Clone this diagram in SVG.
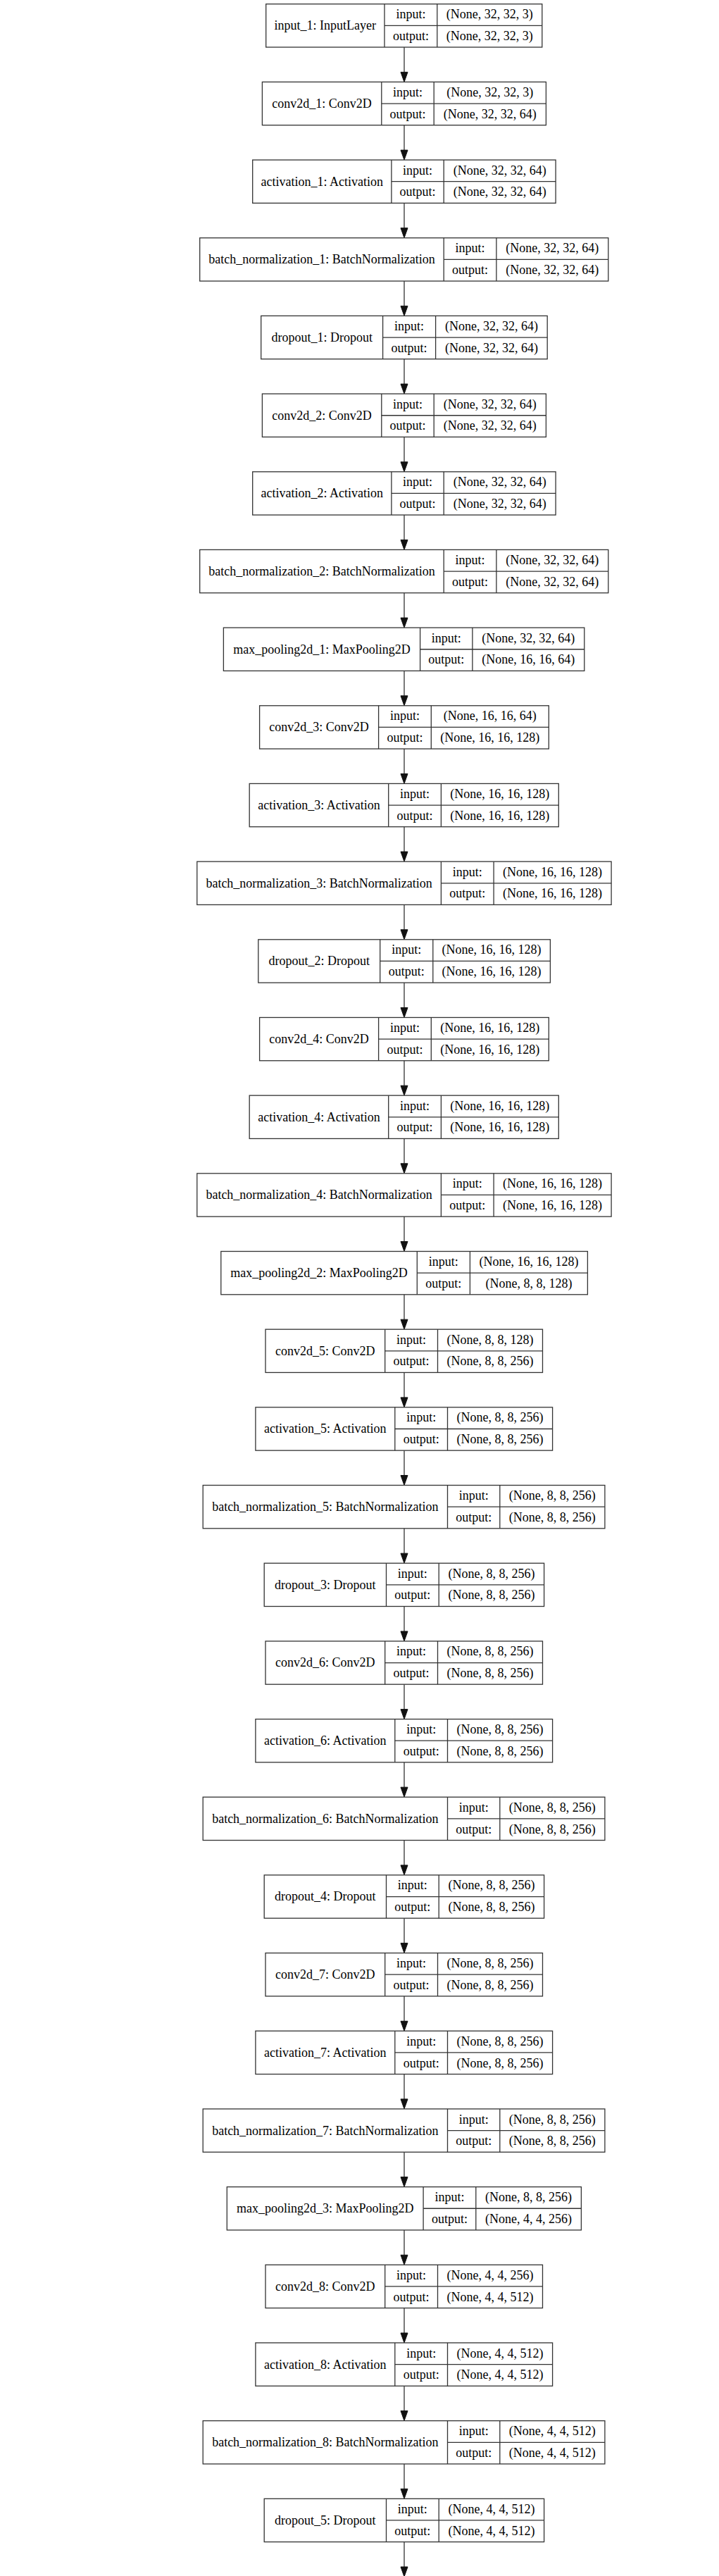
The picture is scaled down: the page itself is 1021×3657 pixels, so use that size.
<svg xmlns="http://www.w3.org/2000/svg" width="1021" height="3657" viewBox="0 0 1021 3657">
<style>
.b{fill:#fff;stroke:#333;stroke-width:1.3}
.d{stroke:#333;stroke-width:1.3}
.t{font-family:"Liberation Serif","Times New Roman",serif;font-size:18px;fill:#000;text-anchor:middle}
.c{stroke:#333;stroke-width:1.3;fill:none}
</style>
<defs>
<marker id="ah" markerUnits="userSpaceOnUse" markerWidth="14" markerHeight="10" refX="0" refY="5" orient="auto" overflow="visible">
<path d="M0,0 L14,5 L0,10 Z" fill="#111" stroke="#111" stroke-width="1"/>
</marker>
</defs>
<rect width="1021" height="3657" fill="#fff"/>
<g id="connectors">
<line class="c" x1="574" y1="67.0" x2="574" y2="102.4" marker-end="url(#ah)"/>
<line class="c" x1="574" y1="177.7" x2="574" y2="213.1" marker-end="url(#ah)"/>
<line class="c" x1="574" y1="288.4" x2="574" y2="323.7" marker-end="url(#ah)"/>
<line class="c" x1="574" y1="399.0" x2="574" y2="434.4" marker-end="url(#ah)"/>
<line class="c" x1="574" y1="509.7" x2="574" y2="545.1" marker-end="url(#ah)"/>
<line class="c" x1="574" y1="620.4" x2="574" y2="655.8" marker-end="url(#ah)"/>
<line class="c" x1="574" y1="731.1" x2="574" y2="766.4" marker-end="url(#ah)"/>
<line class="c" x1="574" y1="841.7" x2="574" y2="877.1" marker-end="url(#ah)"/>
<line class="c" x1="574" y1="952.4" x2="574" y2="987.8" marker-end="url(#ah)"/>
<line class="c" x1="574" y1="1063.1" x2="574" y2="1098.5" marker-end="url(#ah)"/>
<line class="c" x1="574" y1="1173.8" x2="574" y2="1209.1" marker-end="url(#ah)"/>
<line class="c" x1="574" y1="1284.4" x2="574" y2="1319.8" marker-end="url(#ah)"/>
<line class="c" x1="574" y1="1395.1" x2="574" y2="1430.5" marker-end="url(#ah)"/>
<line class="c" x1="574" y1="1505.8" x2="574" y2="1541.2" marker-end="url(#ah)"/>
<line class="c" x1="574" y1="1616.5" x2="574" y2="1651.8" marker-end="url(#ah)"/>
<line class="c" x1="574" y1="1727.1" x2="574" y2="1762.5" marker-end="url(#ah)"/>
<line class="c" x1="574" y1="1837.8" x2="574" y2="1873.2" marker-end="url(#ah)"/>
<line class="c" x1="574" y1="1948.5" x2="574" y2="1983.9" marker-end="url(#ah)"/>
<line class="c" x1="574" y1="2059.2" x2="574" y2="2094.5" marker-end="url(#ah)"/>
<line class="c" x1="574" y1="2169.8" x2="574" y2="2205.2" marker-end="url(#ah)"/>
<line class="c" x1="574" y1="2280.5" x2="574" y2="2315.9" marker-end="url(#ah)"/>
<line class="c" x1="574" y1="2391.2" x2="574" y2="2426.6" marker-end="url(#ah)"/>
<line class="c" x1="574" y1="2501.9" x2="574" y2="2537.2" marker-end="url(#ah)"/>
<line class="c" x1="574" y1="2612.5" x2="574" y2="2647.9" marker-end="url(#ah)"/>
<line class="c" x1="574" y1="2723.2" x2="574" y2="2758.6" marker-end="url(#ah)"/>
<line class="c" x1="574" y1="2833.9" x2="574" y2="2869.3" marker-end="url(#ah)"/>
<line class="c" x1="574" y1="2944.6" x2="574" y2="2979.9" marker-end="url(#ah)"/>
<line class="c" x1="574" y1="3055.2" x2="574" y2="3090.6" marker-end="url(#ah)"/>
<line class="c" x1="574" y1="3165.9" x2="574" y2="3201.3" marker-end="url(#ah)"/>
<line class="c" x1="574" y1="3276.6" x2="574" y2="3312.0" marker-end="url(#ah)"/>
<line class="c" x1="574" y1="3387.3" x2="574" y2="3422.6" marker-end="url(#ah)"/>
<line class="c" x1="574" y1="3497.9" x2="574" y2="3533.3" marker-end="url(#ah)"/>
<line class="c" x1="574" y1="3608.6" x2="574" y2="3644.0" marker-end="url(#ah)"/>
</g>

<g id="input_1" transform="translate(0,5.7)">
<rect class="b" x="377.7" y="0" width="392.1" height="61.3"/>
<line class="d" x1="546.0" y1="0" x2="546.0" y2="61.3"/><line class="d" x1="620.8" y1="0" x2="620.8" y2="61.3"/><line class="d" x1="546.0" y1="30.65" x2="769.8" y2="30.65"/>
<text class="t" x="461.85" y="36.6">input_1: InputLayer</text>
<text class="t" x="583.4" y="20.6">input:</text><text class="t" x="583.4" y="51.3">output:</text>
<text class="t" x="695.3" y="20.6">(None, 32, 32, 3)</text><text class="t" x="695.3" y="51.3">(None, 32, 32, 3)</text>
</g>

<g id="conv2d_1" transform="translate(0,116.375)">
<rect class="b" x="372.4" y="0" width="403" height="61.3"/>
<line class="d" x1="541.8" y1="0" x2="541.8" y2="61.3"/><line class="d" x1="616.2" y1="0" x2="616.2" y2="61.3"/><line class="d" x1="541.8" y1="30.65" x2="775.4" y2="30.65"/>
<text class="t" x="457.1" y="36.6">conv2d_1: Conv2D</text>
<text class="t" x="579.0" y="20.6">input:</text><text class="t" x="579.0" y="51.3">output:</text>
<text class="t" x="695.8" y="20.6">(None, 32, 32, 3)</text><text class="t" x="695.8" y="51.3">(None, 32, 32, 64)</text>
</g>

<g id="activation_1" transform="translate(0,227.05)">
<rect class="b" x="358.7" y="0" width="430.4" height="61.3"/>
<line class="d" x1="555.9" y1="0" x2="555.9" y2="61.3"/><line class="d" x1="630.2" y1="0" x2="630.2" y2="61.3"/><line class="d" x1="555.9" y1="30.65" x2="789.1" y2="30.65"/>
<text class="t" x="457.3" y="36.6">activation_1: Activation</text>
<text class="t" x="593.05" y="20.6">input:</text><text class="t" x="593.05" y="51.3">output:</text>
<text class="t" x="709.65" y="20.6">(None, 32, 32, 64)</text><text class="t" x="709.65" y="51.3">(None, 32, 32, 64)</text>
</g>

<g id="batch_normalization_1" transform="translate(0,337.725)">
<rect class="b" x="283.7" y="0" width="580.1" height="61.3"/>
<line class="d" x1="630.2" y1="0" x2="630.2" y2="61.3"/><line class="d" x1="704.9" y1="0" x2="704.9" y2="61.3"/><line class="d" x1="630.2" y1="30.65" x2="863.8" y2="30.65"/>
<text class="t" x="456.95" y="36.6">batch_normalization_1: BatchNormalization</text>
<text class="t" x="667.55" y="20.6">input:</text><text class="t" x="667.55" y="51.3">output:</text>
<text class="t" x="784.35" y="20.6">(None, 32, 32, 64)</text><text class="t" x="784.35" y="51.3">(None, 32, 32, 64)</text>
</g>

<g id="dropout_1" transform="translate(0,448.4)">
<rect class="b" x="370.7" y="0" width="406.5" height="61.3"/>
<line class="d" x1="543.6" y1="0" x2="543.6" y2="61.3"/><line class="d" x1="618.6" y1="0" x2="618.6" y2="61.3"/><line class="d" x1="543.6" y1="30.65" x2="777.2" y2="30.65"/>
<text class="t" x="457.15" y="36.6">dropout_1: Dropout</text>
<text class="t" x="581.1" y="20.6">input:</text><text class="t" x="581.1" y="51.3">output:</text>
<text class="t" x="697.9" y="20.6">(None, 32, 32, 64)</text><text class="t" x="697.9" y="51.3">(None, 32, 32, 64)</text>
</g>

<g id="conv2d_2" transform="translate(0,559.075)">
<rect class="b" x="372.4" y="0" width="403" height="61.3"/>
<line class="d" x1="541.8" y1="0" x2="541.8" y2="61.3"/><line class="d" x1="616.2" y1="0" x2="616.2" y2="61.3"/><line class="d" x1="541.8" y1="30.65" x2="775.4" y2="30.65"/>
<text class="t" x="457.1" y="36.6">conv2d_2: Conv2D</text>
<text class="t" x="579.0" y="20.6">input:</text><text class="t" x="579.0" y="51.3">output:</text>
<text class="t" x="695.8" y="20.6">(None, 32, 32, 64)</text><text class="t" x="695.8" y="51.3">(None, 32, 32, 64)</text>
</g>

<g id="activation_2" transform="translate(0,669.75)">
<rect class="b" x="358.7" y="0" width="430.4" height="61.3"/>
<line class="d" x1="555.9" y1="0" x2="555.9" y2="61.3"/><line class="d" x1="630.2" y1="0" x2="630.2" y2="61.3"/><line class="d" x1="555.9" y1="30.65" x2="789.1" y2="30.65"/>
<text class="t" x="457.3" y="36.6">activation_2: Activation</text>
<text class="t" x="593.05" y="20.6">input:</text><text class="t" x="593.05" y="51.3">output:</text>
<text class="t" x="709.65" y="20.6">(None, 32, 32, 64)</text><text class="t" x="709.65" y="51.3">(None, 32, 32, 64)</text>
</g>

<g id="batch_normalization_2" transform="translate(0,780.425)">
<rect class="b" x="283.7" y="0" width="580.1" height="61.3"/>
<line class="d" x1="630.2" y1="0" x2="630.2" y2="61.3"/><line class="d" x1="704.9" y1="0" x2="704.9" y2="61.3"/><line class="d" x1="630.2" y1="30.65" x2="863.8" y2="30.65"/>
<text class="t" x="456.95" y="36.6">batch_normalization_2: BatchNormalization</text>
<text class="t" x="667.55" y="20.6">input:</text><text class="t" x="667.55" y="51.3">output:</text>
<text class="t" x="784.35" y="20.6">(None, 32, 32, 64)</text><text class="t" x="784.35" y="51.3">(None, 32, 32, 64)</text>
</g>

<g id="max_pooling2d_1" transform="translate(0,891.1)">
<rect class="b" x="317.4" y="0" width="512.4" height="61.3"/>
<line class="d" x1="596.6" y1="0" x2="596.6" y2="61.3"/><line class="d" x1="670.9" y1="0" x2="670.9" y2="61.3"/><line class="d" x1="596.6" y1="30.65" x2="829.8" y2="30.65"/>
<text class="t" x="457.0" y="36.6">max_pooling2d_1: MaxPooling2D</text>
<text class="t" x="633.75" y="20.6">input:</text><text class="t" x="633.75" y="51.3">output:</text>
<text class="t" x="750.35" y="20.6">(None, 32, 32, 64)</text><text class="t" x="750.35" y="51.3">(None, 16, 16, 64)</text>
</g>

<g id="conv2d_3" transform="translate(0,1001.775)">
<rect class="b" x="368.6" y="0" width="410.7" height="61.3"/>
<line class="d" x1="537.6" y1="0" x2="537.6" y2="61.3"/><line class="d" x1="612.3" y1="0" x2="612.3" y2="61.3"/><line class="d" x1="537.6" y1="30.65" x2="779.3" y2="30.65"/>
<text class="t" x="453.1" y="36.6">conv2d_3: Conv2D</text>
<text class="t" x="574.95" y="20.6">input:</text><text class="t" x="574.95" y="51.3">output:</text>
<text class="t" x="695.8" y="20.6">(None, 16, 16, 64)</text><text class="t" x="695.8" y="51.3">(None, 16, 16, 128)</text>
</g>

<g id="activation_3" transform="translate(0,1112.45)">
<rect class="b" x="354.2" y="0" width="439.1" height="61.3"/>
<line class="d" x1="551.7" y1="0" x2="551.7" y2="61.3"/><line class="d" x1="626.4" y1="0" x2="626.4" y2="61.3"/><line class="d" x1="551.7" y1="30.65" x2="793.3" y2="30.65"/>
<text class="t" x="452.95" y="36.6">activation_3: Activation</text>
<text class="t" x="589.05" y="20.6">input:</text><text class="t" x="589.05" y="51.3">output:</text>
<text class="t" x="709.85" y="20.6">(None, 16, 16, 128)</text><text class="t" x="709.85" y="51.3">(None, 16, 16, 128)</text>
</g>

<g id="batch_normalization_3" transform="translate(0,1223.125)">
<rect class="b" x="279.8" y="0" width="588.3" height="61.3"/>
<line class="d" x1="626.4" y1="0" x2="626.4" y2="61.3"/><line class="d" x1="701.1" y1="0" x2="701.1" y2="61.3"/><line class="d" x1="626.4" y1="30.65" x2="868.1" y2="30.65"/>
<text class="t" x="453.1" y="36.6">batch_normalization_3: BatchNormalization</text>
<text class="t" x="663.75" y="20.6">input:</text><text class="t" x="663.75" y="51.3">output:</text>
<text class="t" x="784.6" y="20.6">(None, 16, 16, 128)</text><text class="t" x="784.6" y="51.3">(None, 16, 16, 128)</text>
</g>

<g id="dropout_2" transform="translate(0,1333.8)">
<rect class="b" x="366.8" y="0" width="414.6" height="61.3"/>
<line class="d" x1="539.7" y1="0" x2="539.7" y2="61.3"/><line class="d" x1="614.8" y1="0" x2="614.8" y2="61.3"/><line class="d" x1="539.7" y1="30.65" x2="781.4" y2="30.65"/>
<text class="t" x="453.25" y="36.6">dropout_2: Dropout</text>
<text class="t" x="577.25" y="20.6">input:</text><text class="t" x="577.25" y="51.3">output:</text>
<text class="t" x="698.1" y="20.6">(None, 16, 16, 128)</text><text class="t" x="698.1" y="51.3">(None, 16, 16, 128)</text>
</g>

<g id="conv2d_4" transform="translate(0,1444.475)">
<rect class="b" x="368.6" y="0" width="410.7" height="61.3"/>
<line class="d" x1="537.6" y1="0" x2="537.6" y2="61.3"/><line class="d" x1="612.3" y1="0" x2="612.3" y2="61.3"/><line class="d" x1="537.6" y1="30.65" x2="779.3" y2="30.65"/>
<text class="t" x="453.1" y="36.6">conv2d_4: Conv2D</text>
<text class="t" x="574.95" y="20.6">input:</text><text class="t" x="574.95" y="51.3">output:</text>
<text class="t" x="695.8" y="20.6">(None, 16, 16, 128)</text><text class="t" x="695.8" y="51.3">(None, 16, 16, 128)</text>
</g>

<g id="activation_4" transform="translate(0,1555.15)">
<rect class="b" x="354.2" y="0" width="439.1" height="61.3"/>
<line class="d" x1="551.7" y1="0" x2="551.7" y2="61.3"/><line class="d" x1="626.4" y1="0" x2="626.4" y2="61.3"/><line class="d" x1="551.7" y1="30.65" x2="793.3" y2="30.65"/>
<text class="t" x="452.95" y="36.6">activation_4: Activation</text>
<text class="t" x="589.05" y="20.6">input:</text><text class="t" x="589.05" y="51.3">output:</text>
<text class="t" x="709.85" y="20.6">(None, 16, 16, 128)</text><text class="t" x="709.85" y="51.3">(None, 16, 16, 128)</text>
</g>

<g id="batch_normalization_4" transform="translate(0,1665.825)">
<rect class="b" x="279.8" y="0" width="588.3" height="61.3"/>
<line class="d" x1="626.4" y1="0" x2="626.4" y2="61.3"/><line class="d" x1="701.1" y1="0" x2="701.1" y2="61.3"/><line class="d" x1="626.4" y1="30.65" x2="868.1" y2="30.65"/>
<text class="t" x="453.1" y="36.6">batch_normalization_4: BatchNormalization</text>
<text class="t" x="663.75" y="20.6">input:</text><text class="t" x="663.75" y="51.3">output:</text>
<text class="t" x="784.6" y="20.6">(None, 16, 16, 128)</text><text class="t" x="784.6" y="51.3">(None, 16, 16, 128)</text>
</g>

<g id="max_pooling2d_2" transform="translate(0,1776.5)">
<rect class="b" x="313.8" y="0" width="520.6" height="61.3"/>
<line class="d" x1="592.3" y1="0" x2="592.3" y2="61.3"/><line class="d" x1="667.4" y1="0" x2="667.4" y2="61.3"/><line class="d" x1="592.3" y1="30.65" x2="834.4" y2="30.65"/>
<text class="t" x="453.05" y="36.6">max_pooling2d_2: MaxPooling2D</text>
<text class="t" x="629.85" y="20.6">input:</text><text class="t" x="629.85" y="51.3">output:</text>
<text class="t" x="750.9" y="20.6">(None, 16, 16, 128)</text><text class="t" x="750.9" y="51.3">(None, 8, 8, 128)</text>
</g>

<g id="conv2d_5" transform="translate(0,1887.175)">
<rect class="b" x="377.0" y="0" width="393.5" height="61.3"/>
<line class="d" x1="546.7" y1="0" x2="546.7" y2="61.3"/><line class="d" x1="621.5" y1="0" x2="621.5" y2="61.3"/><line class="d" x1="546.7" y1="30.65" x2="770.5" y2="30.65"/>
<text class="t" x="461.85" y="36.6">conv2d_5: Conv2D</text>
<text class="t" x="584.1" y="20.6">input:</text><text class="t" x="584.1" y="51.3">output:</text>
<text class="t" x="696.0" y="20.6">(None, 8, 8, 128)</text><text class="t" x="696.0" y="51.3">(None, 8, 8, 256)</text>
</g>

<g id="activation_5" transform="translate(0,1997.85)">
<rect class="b" x="362.9" y="0" width="421.7" height="61.3"/>
<line class="d" x1="560.8" y1="0" x2="560.8" y2="61.3"/><line class="d" x1="635.5" y1="0" x2="635.5" y2="61.3"/><line class="d" x1="560.8" y1="30.65" x2="784.6" y2="30.65"/>
<text class="t" x="461.85" y="36.6">activation_5: Activation</text>
<text class="t" x="598.15" y="20.6">input:</text><text class="t" x="598.15" y="51.3">output:</text>
<text class="t" x="710.05" y="20.6">(None, 8, 8, 256)</text><text class="t" x="710.05" y="51.3">(None, 8, 8, 256)</text>
</g>

<g id="batch_normalization_5" transform="translate(0,2108.525)">
<rect class="b" x="288.2" y="0" width="570.7" height="61.3"/>
<line class="d" x1="635.5" y1="0" x2="635.5" y2="61.3"/><line class="d" x1="709.8" y1="0" x2="709.8" y2="61.3"/><line class="d" x1="635.5" y1="30.65" x2="858.9" y2="30.65"/>
<text class="t" x="461.85" y="36.6">batch_normalization_5: BatchNormalization</text>
<text class="t" x="672.65" y="20.6">input:</text><text class="t" x="672.65" y="51.3">output:</text>
<text class="t" x="784.35" y="20.6">(None, 8, 8, 256)</text><text class="t" x="784.35" y="51.3">(None, 8, 8, 256)</text>
</g>

<g id="dropout_3" transform="translate(0,2219.2)">
<rect class="b" x="375.2" y="0" width="397.4" height="61.3"/>
<line class="d" x1="548.5" y1="0" x2="548.5" y2="61.3"/><line class="d" x1="623.2" y1="0" x2="623.2" y2="61.3"/><line class="d" x1="548.5" y1="30.65" x2="772.6" y2="30.65"/>
<text class="t" x="461.85" y="36.6">dropout_3: Dropout</text>
<text class="t" x="585.85" y="20.6">input:</text><text class="t" x="585.85" y="51.3">output:</text>
<text class="t" x="697.9" y="20.6">(None, 8, 8, 256)</text><text class="t" x="697.9" y="51.3">(None, 8, 8, 256)</text>
</g>

<g id="conv2d_6" transform="translate(0,2329.875)">
<rect class="b" x="377.0" y="0" width="393.5" height="61.3"/>
<line class="d" x1="546.7" y1="0" x2="546.7" y2="61.3"/><line class="d" x1="621.5" y1="0" x2="621.5" y2="61.3"/><line class="d" x1="546.7" y1="30.65" x2="770.5" y2="30.65"/>
<text class="t" x="461.85" y="36.6">conv2d_6: Conv2D</text>
<text class="t" x="584.1" y="20.6">input:</text><text class="t" x="584.1" y="51.3">output:</text>
<text class="t" x="696.0" y="20.6">(None, 8, 8, 256)</text><text class="t" x="696.0" y="51.3">(None, 8, 8, 256)</text>
</g>

<g id="activation_6" transform="translate(0,2440.55)">
<rect class="b" x="362.9" y="0" width="421.7" height="61.3"/>
<line class="d" x1="560.8" y1="0" x2="560.8" y2="61.3"/><line class="d" x1="635.5" y1="0" x2="635.5" y2="61.3"/><line class="d" x1="560.8" y1="30.65" x2="784.6" y2="30.65"/>
<text class="t" x="461.85" y="36.6">activation_6: Activation</text>
<text class="t" x="598.15" y="20.6">input:</text><text class="t" x="598.15" y="51.3">output:</text>
<text class="t" x="710.05" y="20.6">(None, 8, 8, 256)</text><text class="t" x="710.05" y="51.3">(None, 8, 8, 256)</text>
</g>

<g id="batch_normalization_6" transform="translate(0,2551.225)">
<rect class="b" x="288.2" y="0" width="570.7" height="61.3"/>
<line class="d" x1="635.5" y1="0" x2="635.5" y2="61.3"/><line class="d" x1="709.8" y1="0" x2="709.8" y2="61.3"/><line class="d" x1="635.5" y1="30.65" x2="858.9" y2="30.65"/>
<text class="t" x="461.85" y="36.6">batch_normalization_6: BatchNormalization</text>
<text class="t" x="672.65" y="20.6">input:</text><text class="t" x="672.65" y="51.3">output:</text>
<text class="t" x="784.35" y="20.6">(None, 8, 8, 256)</text><text class="t" x="784.35" y="51.3">(None, 8, 8, 256)</text>
</g>

<g id="dropout_4" transform="translate(0,2661.9)">
<rect class="b" x="375.2" y="0" width="397.4" height="61.3"/>
<line class="d" x1="548.5" y1="0" x2="548.5" y2="61.3"/><line class="d" x1="623.2" y1="0" x2="623.2" y2="61.3"/><line class="d" x1="548.5" y1="30.65" x2="772.6" y2="30.65"/>
<text class="t" x="461.85" y="36.6">dropout_4: Dropout</text>
<text class="t" x="585.85" y="20.6">input:</text><text class="t" x="585.85" y="51.3">output:</text>
<text class="t" x="697.9" y="20.6">(None, 8, 8, 256)</text><text class="t" x="697.9" y="51.3">(None, 8, 8, 256)</text>
</g>

<g id="conv2d_7" transform="translate(0,2772.575)">
<rect class="b" x="377.0" y="0" width="393.5" height="61.3"/>
<line class="d" x1="546.7" y1="0" x2="546.7" y2="61.3"/><line class="d" x1="621.5" y1="0" x2="621.5" y2="61.3"/><line class="d" x1="546.7" y1="30.65" x2="770.5" y2="30.65"/>
<text class="t" x="461.85" y="36.6">conv2d_7: Conv2D</text>
<text class="t" x="584.1" y="20.6">input:</text><text class="t" x="584.1" y="51.3">output:</text>
<text class="t" x="696.0" y="20.6">(None, 8, 8, 256)</text><text class="t" x="696.0" y="51.3">(None, 8, 8, 256)</text>
</g>

<g id="activation_7" transform="translate(0,2883.25)">
<rect class="b" x="362.9" y="0" width="421.7" height="61.3"/>
<line class="d" x1="560.8" y1="0" x2="560.8" y2="61.3"/><line class="d" x1="635.5" y1="0" x2="635.5" y2="61.3"/><line class="d" x1="560.8" y1="30.65" x2="784.6" y2="30.65"/>
<text class="t" x="461.85" y="36.6">activation_7: Activation</text>
<text class="t" x="598.15" y="20.6">input:</text><text class="t" x="598.15" y="51.3">output:</text>
<text class="t" x="710.05" y="20.6">(None, 8, 8, 256)</text><text class="t" x="710.05" y="51.3">(None, 8, 8, 256)</text>
</g>

<g id="batch_normalization_7" transform="translate(0,2993.925)">
<rect class="b" x="288.2" y="0" width="570.7" height="61.3"/>
<line class="d" x1="635.5" y1="0" x2="635.5" y2="61.3"/><line class="d" x1="709.8" y1="0" x2="709.8" y2="61.3"/><line class="d" x1="635.5" y1="30.65" x2="858.9" y2="30.65"/>
<text class="t" x="461.85" y="36.6">batch_normalization_7: BatchNormalization</text>
<text class="t" x="672.65" y="20.6">input:</text><text class="t" x="672.65" y="51.3">output:</text>
<text class="t" x="784.35" y="20.6">(None, 8, 8, 256)</text><text class="t" x="784.35" y="51.3">(None, 8, 8, 256)</text>
</g>

<g id="max_pooling2d_3" transform="translate(0,3104.6)">
<rect class="b" x="322.3" y="0" width="503.1" height="61.3"/>
<line class="d" x1="601.1" y1="0" x2="601.1" y2="61.3"/><line class="d" x1="675.8" y1="0" x2="675.8" y2="61.3"/><line class="d" x1="601.1" y1="30.65" x2="825.4" y2="30.65"/>
<text class="t" x="461.7" y="36.6">max_pooling2d_3: MaxPooling2D</text>
<text class="t" x="638.45" y="20.6">input:</text><text class="t" x="638.45" y="51.3">output:</text>
<text class="t" x="750.6" y="20.6">(None, 8, 8, 256)</text><text class="t" x="750.6" y="51.3">(None, 4, 4, 256)</text>
</g>

<g id="conv2d_8" transform="translate(0,3215.275)">
<rect class="b" x="377.0" y="0" width="393.5" height="61.3"/>
<line class="d" x1="546.7" y1="0" x2="546.7" y2="61.3"/><line class="d" x1="621.5" y1="0" x2="621.5" y2="61.3"/><line class="d" x1="546.7" y1="30.65" x2="770.5" y2="30.65"/>
<text class="t" x="461.85" y="36.6">conv2d_8: Conv2D</text>
<text class="t" x="584.1" y="20.6">input:</text><text class="t" x="584.1" y="51.3">output:</text>
<text class="t" x="696.0" y="20.6">(None, 4, 4, 256)</text><text class="t" x="696.0" y="51.3">(None, 4, 4, 512)</text>
</g>

<g id="activation_8" transform="translate(0,3325.95)">
<rect class="b" x="362.9" y="0" width="421.7" height="61.3"/>
<line class="d" x1="560.8" y1="0" x2="560.8" y2="61.3"/><line class="d" x1="635.5" y1="0" x2="635.5" y2="61.3"/><line class="d" x1="560.8" y1="30.65" x2="784.6" y2="30.65"/>
<text class="t" x="461.85" y="36.6">activation_8: Activation</text>
<text class="t" x="598.15" y="20.6">input:</text><text class="t" x="598.15" y="51.3">output:</text>
<text class="t" x="710.05" y="20.6">(None, 4, 4, 512)</text><text class="t" x="710.05" y="51.3">(None, 4, 4, 512)</text>
</g>

<g id="batch_normalization_8" transform="translate(0,3436.625)">
<rect class="b" x="288.2" y="0" width="570.7" height="61.3"/>
<line class="d" x1="635.5" y1="0" x2="635.5" y2="61.3"/><line class="d" x1="709.8" y1="0" x2="709.8" y2="61.3"/><line class="d" x1="635.5" y1="30.65" x2="858.9" y2="30.65"/>
<text class="t" x="461.85" y="36.6">batch_normalization_8: BatchNormalization</text>
<text class="t" x="672.65" y="20.6">input:</text><text class="t" x="672.65" y="51.3">output:</text>
<text class="t" x="784.35" y="20.6">(None, 4, 4, 512)</text><text class="t" x="784.35" y="51.3">(None, 4, 4, 512)</text>
</g>

<g id="dropout_5" transform="translate(0,3547.3)">
<rect class="b" x="375.2" y="0" width="397.4" height="61.3"/>
<line class="d" x1="548.5" y1="0" x2="548.5" y2="61.3"/><line class="d" x1="623.2" y1="0" x2="623.2" y2="61.3"/><line class="d" x1="548.5" y1="30.65" x2="772.6" y2="30.65"/>
<text class="t" x="461.85" y="36.6">dropout_5: Dropout</text>
<text class="t" x="585.85" y="20.6">input:</text><text class="t" x="585.85" y="51.3">output:</text>
<text class="t" x="697.9" y="20.6">(None, 4, 4, 512)</text><text class="t" x="697.9" y="51.3">(None, 4, 4, 512)</text>
</g>
</svg>
